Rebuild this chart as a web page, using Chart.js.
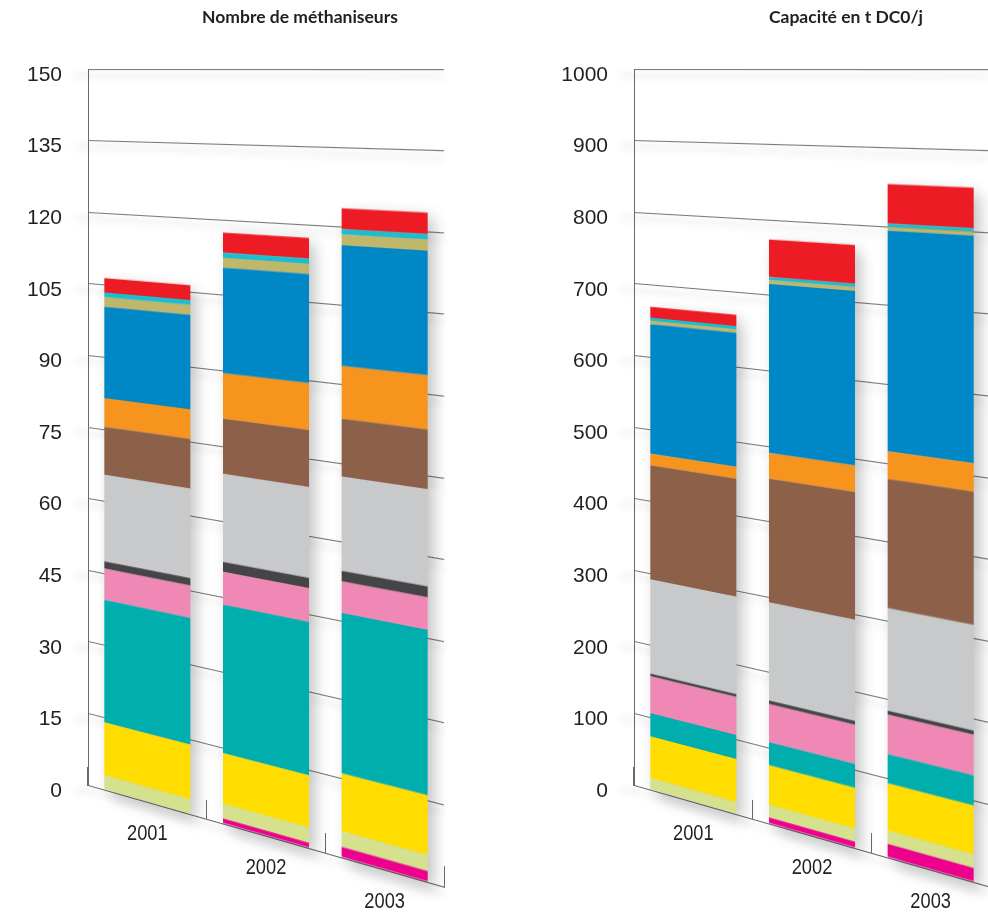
<!DOCTYPE html>
<html lang="fr">
<head>
<meta charset="UTF-8">
<title>Méthaniseurs 2001-2003</title>
<script src="https://cdn.jsdelivr.net/npm/chart.js@4"></script>
<style>
  html, body { margin: 0; padding: 0; background: #fff; overflow: hidden; }
  body { width: 988px; height: 917px; position: relative; }
  canvas { position: absolute; top: 0; }
  #countChart { left: 0; }
  #capacityChart { left: 546px; }
</style>
</head>
<body>
<canvas id="countChart" width="600" height="917"></canvas>
<canvas id="capacityChart" width="600" height="917"></canvas>

<script>
const years = ['2001', '2002', '2003'];

// stack order, bottom first
const seriesNames = ['Série 1', 'Série 2', 'Série 3', 'Série 4', 'Série 5', 'Série 6', 'Série 7',
                     'Série 8', 'Série 9', 'Série 10', 'Série 11', 'Série 12', 'Série 13'];
const seriesColors = ['#ec008c', '#d5e18c', '#ffdd00', '#00aeae', '#f088b6', '#454547', '#c8c9cb',
                      '#8d604a', '#f7941d', '#0088c6', '#c0b76a', '#1bbdd0', '#ed1c24'];

// Nombre de méthaniseurs, one row per series, one value per year
const countValues = [
  [0, 1, 2],
  [3, 3, 3],
  [11, 10, 11],
  [25.5, 29.5, 30.5],
  [6.5, 6.5, 6],
  [1.5, 2, 2],
  [18, 17.5, 18],
  [10, 11, 11],
  [6, 9, 10],
  [19, 21, 23],
  [2, 2, 2],
  [1, 1, 1],
  [3, 4, 4]
];

// Capacité en t DC0/j
const capacityValues = [
  [0, 8, 17],
  [16, 17, 17],
  [58, 52, 60],
  [32, 31, 37],
  [51, 50, 50],
  [4, 5, 5],
  [131, 130, 130],
  [158, 164, 164],
  [16, 34, 35],
  [180, 224, 280],
  [5, 5, 5],
  [4, 4, 4],
  [15, 50, 50]
];

const countAxis = { max: 150, step: 15 };
const capacityAxis = { max: 1000, step: 100 };

const K = 0.000399;   // how fast the vertical scale grows to the right (fake perspective)
const ink = '#231f20';
const labelFont = '"Liberation Sans Narrow", "Liberation Sans", sans-serif';

const perspective = {
  id: 'perspective',
  beforeDatasetsDraw(chart) {
    const { ctx, chartArea, scales } = chart;
    const far = 10000;   // draw off canvas, only the shadow lands back on it
    ctx.save();
    ctx.fillStyle = '#000';
    ctx.strokeStyle = '#000';

    // soft shadow under each grid line
    ctx.shadowColor = 'rgba(0,0,0,0.16)';
    ctx.shadowBlur = 9;
    ctx.shadowOffsetX = 0;
    ctx.shadowOffsetY = far + 6;
    ctx.lineWidth = 2;
    scales.y.ticks.forEach(t => {
      const y = scales.y.getPixelForValue(t.value);
      ctx.beginPath();
      ctx.moveTo(chartArea.left - 14, y - far);
      ctx.lineTo(chartArea.right, y - far);
      ctx.stroke();
    });

    // shadow behind each stacked bar
    ctx.shadowColor = 'rgba(0,0,0,0.24)';
    ctx.shadowBlur = 14;
    ctx.shadowOffsetX = far + 6;
    ctx.shadowOffsetY = 5;
    const meta = chart.getDatasetMeta(0);
    const base = scales.y.getPixelForValue(0);
    chart.data.labels.forEach((lab, i) => {
      const total = chart.data.datasets.reduce((sum, ds) => sum + ds.data[i], 0);
      const top = scales.y.getPixelForValue(total);
      const bar = meta.data[i];
      ctx.fillRect(bar.x - bar.width / 2 - far, top, bar.width, base - top);
    });
    ctx.restore();
  },
  afterDraw(chart) {
    const { ctx, canvas, chartArea, scales } = chart;
    const x0 = Math.round(chartArea.left);
    const y0 = chartArea.top;
    const ys = 45;
    const w = canvas.width, h = canvas.height;

    const copy = document.createElement('canvas');
    copy.width = w;
    copy.height = h;
    copy.getContext('2d').drawImage(canvas, 0, 0);

    ctx.save();
    ctx.setTransform(1, 0, 0, 1, 0, 0);
    ctx.clearRect(x0, ys, w - x0, h - ys);
    for (let x = x0; x < w; x++) {
      const s = 1 + K * (x - x0);
      ctx.drawImage(copy, x, ys, 1, h - ys, x, y0 + (ys - y0) * s, 1, (h - ys) * s);
    }

    // year labels follow the slanted floor (condensed like the print)
    ctx.font = '22px ' + labelFont;
    ctx.fillStyle = ink;
    ctx.textAlign = 'center';
    ctx.textBaseline = 'middle';
    chart.data.labels.forEach((lab, i) => {
      const x = scales.x.getPixelForTick(i);
      const floor = y0 + (chartArea.bottom - y0) * (1 + K * (x - x0));
      ctx.save();
      ctx.translate(x, floor + 32);
      ctx.scale(0.83, 1);
      ctx.fillText(lab, 0, 0);
      ctx.restore();
    });
    ctx.restore();
  }
};

function makeChart(id, title, values, axis) {
  return new Chart(document.getElementById(id), {
    type: 'bar',
    data: {
      labels: years,
      datasets: values.map((row, i) => ({
        label: seriesNames[i],
        data: row,
        backgroundColor: seriesColors[i],
        borderWidth: 0
      }))
    },
    options: {
      responsive: false,
      animation: false,
      devicePixelRatio: 1,
      barPercentage: 0.725,
      categoryPercentage: 1,
      layout: { padding: { left: 0, right: 0, top: 0, bottom: 132 } },
      plugins: {
        legend: { display: false },
        tooltip: { enabled: false },
        title: {
          display: true,
          text: title,
          color: ink,
          font: { family: 'Lato', size: 17.5, weight: 'bold' },
          padding: { top: 7, bottom: 41 }
        }
      },
      scales: {
        x: {
          stacked: true,
          afterFit(scale) { scale.height = 0; },
          ticks: { display: false },
          grid: {
            display: true,
            offset: true,
            drawOnChartArea: false,
            drawTicks: true,
            tickLength: -18,
            color: '#6a6a6a'
          },
          border: { display: true, color: '#6a6a6a', width: 1 }
        },
        y: {
          stacked: true,
          min: 0,
          max: axis.max,
          afterFit(scale) { scale.width = 88; },
          ticks: {
            stepSize: axis.step,
            padding: 26,
            labelOffset: 6,
            color: ink,
            font: { family: labelFont, size: 21 },
            callback: v => String(v)
          },
          grid: { color: '#7a7a7a', lineWidth: 1, drawTicks: false },
          border: { display: true, color: '#6a6a6a', width: 1 }
        },
        // empty margin on the right so the plot stops short of the title's centre line
        margin: {
          type: 'linear',
          position: 'right',
          afterFit(scale) { scale.width = 156; },
          ticks: { display: false },
          grid: { display: false },
          border: { display: false }
        }
      }
    },
    plugins: [perspective]
  });
}

Promise.all([
  document.fonts.load('21px "Liberation Sans Narrow"'),
  document.fonts.load('bold 17px Lato')
]).catch(() => {}).then(() => {
  makeChart('countChart', 'Nombre de méthaniseurs', countValues, countAxis);
  makeChart('capacityChart', 'Capacité en t DC0/j', capacityValues, capacityAxis);
});
</script>
</body>
</html>
